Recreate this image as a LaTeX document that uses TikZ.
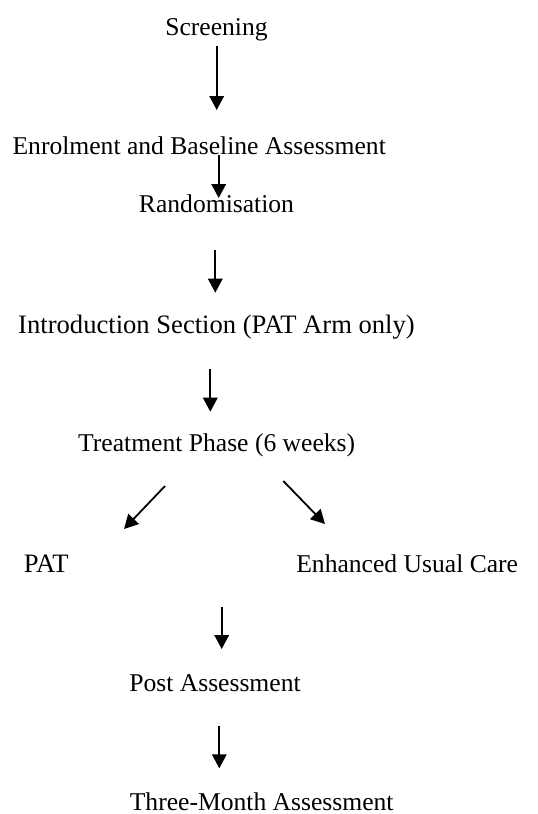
\documentclass[tikz,border=0pt]{standalone}
\usepackage{fontspec}
\setmainfont{Liberation Serif}
\usetikzlibrary{arrows.meta}
\begin{document}
\begin{tikzpicture}[x=1pt,y=-1pt,
  lbl/.style={inner sep=0pt,anchor=base,font=\fontsize{25.6}{30}\selectfont},
  big/.style={inner sep=0pt,anchor=base,font=\fontsize{26.6}{30}\selectfont},
  arr/.style={line width=1.8pt,-{Triangle[length=14pt,width=14.5pt]}}]
\useasboundingbox (0,0) rectangle (538,814);
\node[lbl] (scr) at (216.5,35) {Screening};
\node[lbl] (enr) at (199.2,154) {Enrolment and Baseline Assessment};
\node[lbl] (ran) at (216.5,212.7) {Randomisation};
\node[big] (int) at (216.5,333) {Introduction Section (PAT Arm only)};
\node[lbl] (tre) at (216.7,451.7) {Treatment Phase (6 weeks)};
\node[big] (pat) at (46.2,572.3) {PAT};
\node[lbl] (euc) at (407.2,572) {Enhanced Usual Care};
\node[lbl] (pos) at (215,691.7) {Post Assessment};
\node[lbl] (thr) at (261.7,810) {Three-Month Assessment};
\coordinate (a1s) at (216.7,46);  \coordinate (a1e) at (216.7,110);
\coordinate (a2s) at (218.7,155); \coordinate (a2e) at (218.7,198);
\coordinate (a3s) at (215.3,250); \coordinate (a3e) at (215.3,292.7);
\coordinate (a4s) at (210.3,369); \coordinate (a4e) at (210.3,411.7);
\coordinate (a5s) at (165,486);   \coordinate (a5e) at (124,529);
\coordinate (a6s) at (283.3,481); \coordinate (a6e) at (325,524);
\coordinate (a7s) at (221.7,607.3); \coordinate (a7e) at (221.7,649);
\coordinate (a8s) at (219.3,726); \coordinate (a8e) at (219.3,768.3);
\draw[arr] (a1s) -- (a1e);
\draw[arr] (a2s) -- (a2e);
\draw[arr] (a3s) -- (a3e);
\draw[arr] (a4s) -- (a4e);
\draw[arr] (a5s) -- (a5e);
\draw[arr] (a6s) -- (a6e);
\draw[arr] (a7s) -- (a7e);
\draw[arr] (a8s) -- (a8e);
\end{tikzpicture}
\end{document}
